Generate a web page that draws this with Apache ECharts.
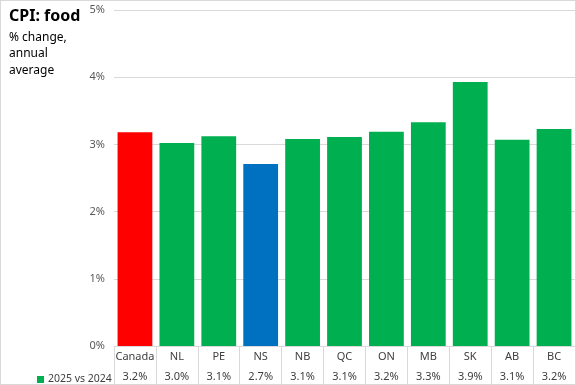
<!DOCTYPE html>
<html><head><meta charset="utf-8">
<script src="https://cdn.jsdelivr.net/npm/echarts@6/dist/echarts.min.js"></script>
<style>
html,body{margin:0;padding:0;background:#fff;}
#wrap{position:relative;width:576px;height:385px;}
#c{width:576px;height:385px;}
#frame{position:absolute;left:0;top:0;width:576px;height:385px;box-sizing:border-box;border:1px solid #d9d9d9;pointer-events:none;}
</style></head>
<body><div id="wrap"><div id="c"></div><div id="frame"></div></div>
<script>
const categories = ['Canada','NL','PE','NS','NB','QC','ON','MB','SK','AB','BC'];
const values = [3.18, 3.02, 3.12, 2.71, 3.08, 3.11, 3.19, 3.33, 3.93, 3.07, 3.23];
const tableLabels = ['3.2%','3.0%','3.1%','2.7%','3.1%','3.1%','3.2%','3.3%','3.9%','3.1%','3.2%'];
const barColors = ['#ff0000','#00b050','#00b050','#0070c0','#00b050','#00b050','#00b050','#00b050','#00b050','#00b050','#00b050'];
const yTicks = [0,1,2,3,4,5];
const seriesName = '2025 vs 2024';

const font = '"Noto Sans", "Liberation Sans", sans-serif';
const chart = echarts.init(document.getElementById('c'), null, {renderer:'canvas'});
chart.setOption({
  animation:false,
  textStyle:{fontFamily:font},
  title:{
    text:'CPI: food',
    subtext:'% change,\nannual\naverage',
    left:4, top:3, itemGap:5,
    textStyle:{fontSize:16, fontWeight:'bold', color:'#000', fontFamily:font},
    subtextStyle:{fontSize:12, color:'#000', lineHeight:16.5, fontFamily:font}
  },
  legend:{
    data:[seriesName],
    left:32, top:369,
    icon:'rect', itemWidth:7, itemHeight:7, itemGap:4,
    textStyle:{fontSize:10.5, color:'#404040', fontFamily:font, padding:[0,0,0,-1]}
  },
  grid:{left:114, right:1, top:10, bottom:39, containLabel:false},
  xAxis:[{
    type:'category', data:categories, position:'bottom',
    axisLine:{show:true, lineStyle:{color:'#d9d9d9', width:1}},
    axisTick:{show:true, length:39, lineStyle:{color:'#d9d9d9'}},
    axisLabel:{fontSize:11, color:'#404040', margin:5, interval:0, fontFamily:font}
  },{
    type:'category', data:tableLabels, position:'bottom', offset:20,
    axisLine:{show:false}, axisTick:{show:false},
    axisLabel:{fontSize:11, color:'#404040', margin:5, interval:0, fontFamily:font}
  }],
  yAxis:{
    type:'value', min:yTicks[0], max:yTicks[yTicks.length-1], interval:1,
    axisLine:{show:false}, axisTick:{show:false},
    axisLabel:{formatter:'{value}%', fontSize:11, color:'#595959', margin:9, fontFamily:font},
    splitLine:{lineStyle:{color:'#d9d9d9', width:1}}
  },
  series:[{
    name:seriesName, type:'bar', xAxisIndex:0,
    barCategoryGap:'17%',
    itemStyle:{color:'#00b050'},
    data: values.map((v,i)=>({value:v, itemStyle:{color:barColors[i]}}))
  }]
});
</script></body></html>
